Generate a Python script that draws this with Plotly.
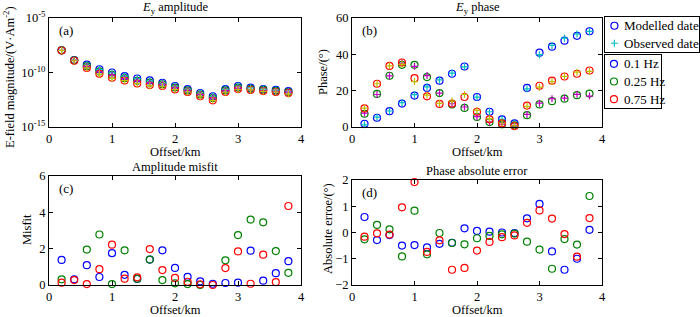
import numpy as np
import plotly.graph_objects as go

offset_km = [0.2, 0.4, 0.6, 0.8, 1.0, 1.2, 1.4, 1.6, 1.8, 2.0,
             2.2, 2.4, 2.6, 2.8, 3.0, 3.2, 3.4, 3.6, 3.8]
freq_labels = ["0.1 Hz", "0.25 Hz", "0.75 Hz"]
data_labels = ["Modelled date", "Observed date"]

# (a) amplitude, log10 of V/(A m^2)
amp_mod_log_01 = [-7.97, -8.86, -9.27, -9.70, -10.00, -10.33, -10.55, -10.73, -10.94, -11.24,
                  -11.52, -11.88, -12.18, -11.52, -11.24, -11.39, -11.52, -11.60, -11.70]
amp_mod_log_025 = [-7.97, -8.88, -9.42, -9.90, -10.22, -10.52, -10.76, -10.93, -11.08, -11.38,
                   -11.64, -12.02, -12.35, -11.64, -11.38, -11.50, -11.60, -11.69, -11.79]
amp_mod_log_075 = [-7.98, -8.92, -9.58, -10.12, -10.48, -10.73, -11.00, -11.15, -11.24, -11.55,
                   -11.79, -12.18, -12.55, -11.79, -11.52, -11.60, -11.70, -11.79, -11.88]
amp_obs_log_01 = [-7.97, -8.87, -9.29, -9.71, -10.03, -10.34, -10.56, -10.76, -10.97, -11.25,
                  -11.53, -11.88, -12.18, -11.52, -11.24, -11.41, -11.52, -11.61, -11.72]
amp_obs_log_025 = [-7.97, -8.88, -9.45, -9.95, -10.22, -10.56, -10.77, -10.96, -11.08, -11.38,
                   -11.64, -12.02, -12.35, -11.67, -11.44, -11.58, -11.67, -11.73, -11.80]
amp_obs_log_075 = [-7.98, -8.92, -9.58, -10.14, -10.53, -10.74, -11.01, -11.20, -11.26, -11.56,
                   -11.79, -12.18, -12.55, -11.81, -11.56, -11.60, -11.74, -11.79, -11.98]

# (b) phase, degrees
ph_mod_01 = [1.8, 5.1, 8.7, 12.9, 17.3, 21.5, 25.5, 29.3, 33.3, 16.5,
             8.4, 4.2, 2.0, 21.5, 40.9, 44.2, 47.5, 50.2, 52.7]
ph_mod_025 = [7.3, 18.2, 28.2, 34.2, 34.2, 27.5, 18.7, 12.4, 10.5, 5.5,
              2.7, 1.5, 0.9, 6.5, 12.4, 14.2, 15.6, 17.5, 18.4]
ph_mod_075 = [10.2, 23.8, 33.6, 35.5, 26.9, 16.9, 12.7, 12.9, 16.5, 8.4,
              4.2, 2.0, 0.5, 11.8, 22.7, 25.5, 27.8, 29.3, 31.1]
ph_obs_01 = [1.2, 5.4, 8.8, 13.4, 17.8, 22.1, 25.9, 29.7, 33.1, 16.4,
             8.4, 4.2, 2.0, 21.0, 39.8, 44.9, 48.9, 51.2, 52.6]
ph_obs_025 = [7.6, 17.9, 28.1, 35.1, 33.4, 28.3, 18.7, 12.8, 11.0, 5.7,
              2.8, 1.6, 0.9, 6.9, 13.1, 15.6, 15.9, 18.0, 17.0]
ph_obs_075 = [10.4, 23.8, 33.7, 34.5, 25.0, 17.6, 13.0, 14.3, 17.9, 9.1,
              4.6, 2.2, 0.6, 11.4, 21.9, 25.0, 27.9, 30.2, 30.6]

# (c) amplitude misfit
mis_01 = [1.38, 0.31, 1.09, 0.44, 1.75, 0.56, 0.33, 1.40, 1.91, 0.94,
          0.45, 0.20, 0.07, 0.11, 0.13, 1.89, 0.24, 0.65, 1.31]
mis_025 = [0.31, -0.05, 1.95, 2.78, 0.05, 1.91, 0.35, 1.40, 0.27, 0.09,
           0.05, 0.0, -0.05, 1.36, 2.75, 3.60, 3.45, 1.87, 0.67]
mis_075 = [0.13, 0.27, 0.05, 0.87, 2.22, 0.35, 0.42, 1.98, 0.82, 0.39,
           0.18, 0.04, 0.0, 0.93, 1.85, 0.07, 1.67, 0.16, 4.35]

# (d) phase absolute error, degrees
err_01 = [0.59, -0.29, -0.10, -0.50, -0.48, -0.57, -0.43, -0.39, 0.16, 0.06,
          0.03, 0.0, -0.02, 0.54, 1.09, -0.72, -1.42, -1.00, 0.10]
err_025 = [-0.26, 0.29, 0.12, -0.91, 0.83, -0.83, -0.02, -0.40, -0.45, -0.22,
           -0.13, -0.07, -0.04, -0.35, -0.65, -1.38, -0.25, -0.46, 1.39]
err_075 = [-0.16, -0.03, -0.08, 0.96, 1.92, -0.74, -0.30, -1.42, -1.35, -0.69,
           -0.36, -0.18, -0.11, 0.37, 0.84, 0.53, -0.06, -0.92, 0.55]

mod_colors = ["#0000ff", "#008000", "#ff0000"]
obs_colors = ["#00bfbf", "#bf00bf", "#bfbf00"]
FONT = "Liberation Serif, Times New Roman, serif"
W, H = 700, 317
TFS = 12.5  # title font size

fig = go.Figure()


def circ(x, y, color, xa, ya, size=7):
    fig.add_trace(go.Scatter(x=x, y=y, mode="markers", xaxis=xa, yaxis=ya,
                             marker=dict(symbol="circle-open", size=size, color=color,
                                         line=dict(width=1.2)),
                             showlegend=False, cliponaxis=False, hoverinfo="skip"))


def plus(x, y, color, xa, ya, size=5):
    fig.add_trace(go.Scatter(x=x, y=y, mode="markers", xaxis=xa, yaxis=ya,
                             marker=dict(symbol="cross-thin-open", size=size, color=color,
                                         line=dict(width=1.2, color=color)),
                             showlegend=False, cliponaxis=False, hoverinfo="skip"))


amp_mod = [amp_mod_log_01, amp_mod_log_025, amp_mod_log_075]
amp_obs = [amp_obs_log_01, amp_obs_log_025, amp_obs_log_075]
for i in range(3):
    circ(offset_km, 10.0 ** np.array(amp_mod[i]), mod_colors[i], "x", "y")
for i in range(3):
    plus(offset_km, 10.0 ** np.array(amp_obs[i]), obs_colors[i], "x", "y")

ph_mod = [ph_mod_01, ph_mod_025, ph_mod_075]
ph_obs = [ph_obs_01, ph_obs_025, ph_obs_075]
for i in range(3):
    circ(offset_km, ph_mod[i], mod_colors[i], "x2", "y2")
    plus(offset_km, ph_obs[i], obs_colors[i], "x2", "y2")

mis = [mis_01, mis_025, mis_075]
err = [err_01, err_025, err_075]
for i in range(3):
    circ(offset_km, mis[i], mod_colors[i], "x3", "y3")
for i in range(3):
    circ(offset_km, err[i], mod_colors[i], "x4", "y4")


def px_x(p):
    return p / W


def px_y(p):
    return 1 - p / H


# ---- manual legend boxes (own invisible axes) ----
leg1_x = [px_x(605), px_x(699)]
leg1_y = [px_y(52), px_y(17)]
leg2_x = [px_x(605), px_x(661)]
leg2_y = [px_y(108), px_y(55)]

fig.add_trace(go.Scatter(x=[0.1], y=[1.5], mode="markers", xaxis="x5", yaxis="y5",
                         marker=dict(symbol="circle-open", size=7, color=mod_colors[0],
                                     line=dict(width=1.2)),
                         showlegend=False, hoverinfo="skip"))
fig.add_trace(go.Scatter(x=[0.1], y=[0.5], mode="markers", xaxis="x5", yaxis="y5",
                         marker=dict(symbol="cross-thin-open", size=5, color=obs_colors[0],
                                     line=dict(width=1.2, color=obs_colors[0])),
                         showlegend=False, hoverinfo="skip"))
for j, lab in enumerate(data_labels):
    fig.add_annotation(text=lab, x=0.18, y=1.5 - j, xref="x5", yref="y5",
                       xanchor="left", yanchor="middle", showarrow=False,
                       font=dict(size=13, family=FONT))

for i in range(3):
    fig.add_trace(go.Scatter(x=[0.16], y=[2.5 - i], mode="markers", xaxis="x6", yaxis="y6",
                             marker=dict(symbol="circle-open", size=7, color=mod_colors[i],
                                         line=dict(width=1.2)),
                             showlegend=False, hoverinfo="skip"))
    fig.add_annotation(text=freq_labels[i], x=0.3, y=2.5 - i, xref="x6", yref="y6",
                       xanchor="left", yanchor="middle", showarrow=False,
                       font=dict(size=13, family=FONT))

ax_common = dict(showline=True, linecolor="black", linewidth=1, mirror="ticks",
                 ticks="inside", ticklen=4, tickcolor="black", showgrid=False,
                 zeroline=False, tickfont=dict(size=12.5, family=FONT, color="black"))
box_ax = dict(showline=True, linecolor="black", linewidth=1, mirror=True,
              ticks="", showticklabels=False, showgrid=False, zeroline=False,
              fixedrange=True)

xdom_l = [px_x(49), px_x(301)]
xdom_r = [px_x(352), px_x(602)]
ydom_top = [px_y(127), px_y(18)]
ydom_c = [px_y(285), px_y(176)]
ydom_d = [px_y(285), px_y(180)]

xt = dict(range=[0, 4], tickvals=[0, 1, 2, 3, 4])

fig.update_layout(
    width=W, height=H, margin=dict(l=0, r=0, t=0, b=0, autoexpand=False),
    paper_bgcolor="white", plot_bgcolor="white", showlegend=False,
    font=dict(family=FONT, size=13, color="black"),
    xaxis=dict(domain=xdom_l, anchor="y", **xt, **ax_common),
    yaxis=dict(domain=ydom_top, anchor="x", type="log", range=[-15, -5],
               tickvals=[1e-15, 1e-10, 1e-5],
               ticktext=["10<sup>-15</sup>", "10<sup>-10</sup>", "10<sup>-5</sup>"],
               **ax_common),
    xaxis2=dict(domain=xdom_r, anchor="y2", **xt, **ax_common),
    yaxis2=dict(domain=ydom_top, anchor="x2", range=[0, 60], tickvals=[0, 20, 40, 60],
                **ax_common),
    xaxis3=dict(domain=xdom_l, anchor="y3", **xt, **ax_common),
    yaxis3=dict(domain=ydom_c, anchor="x3", range=[0, 6], tickvals=[0, 2, 4, 6],
                **ax_common),
    xaxis4=dict(domain=xdom_r, anchor="y4", **xt, **ax_common),
    yaxis4=dict(domain=ydom_d, anchor="x4", range=[-2, 2], tickvals=[-2, -1, 0, 1, 2],
                **ax_common),
    xaxis5=dict(domain=leg1_x, anchor="y5", range=[0, 1], **box_ax),
    yaxis5=dict(domain=leg1_y, anchor="x5", range=[0, 2], **box_ax),
    xaxis6=dict(domain=leg2_x, anchor="y6", range=[0, 1], **box_ax),
    yaxis6=dict(domain=leg2_y, anchor="x6", range=[0, 3], **box_ax),
)

# panel titles
titles = [("<i>E</i><sub>y</sub> amplitude", xdom_l, 8),
          ("<i>E</i><sub>y</sub> phase", xdom_r, 8),
          ("Amplitude misfit", xdom_l, 167),
          ("Phase absolute error", xdom_r, 171)]
for t, xd, yc in titles:
    fig.add_annotation(text=t, x=(xd[0] + xd[1]) / 2, y=px_y(yc), xref="paper", yref="paper",
                       xanchor="center", yanchor="middle", showarrow=False,
                       font=dict(size=TFS, family=FONT))

# x axis titles
for xd, yc in [(xdom_l, 152), (xdom_r, 152), (xdom_l, 310), (xdom_r, 310)]:
    fig.add_annotation(text="Offset/km", x=(xd[0] + xd[1]) / 2, y=px_y(yc),
                       xref="paper", yref="paper", xanchor="center", yanchor="middle",
                       showarrow=False, font=dict(size=TFS, family=FONT))

# y axis titles
for t, xc, yc in [("E-field magnitude/(V·Am<sup>-2</sup>)", 9, 77),
                  ("Phase/(°)", 323, 72),
                  ("Misfit", 27, 230),
                  ("Absolute erroe/(°)", 328, 229)]:
    fig.add_annotation(text=t, x=px_x(xc), y=px_y(yc), xref="paper", yref="paper",
                       xanchor="center", yanchor="middle", textangle=-90,
                       showarrow=False, font=dict(size=TFS, family=FONT))

# panel letters
for lab, xd, yd in [("(a)", xdom_l, ydom_top), ("(b)", xdom_r, ydom_top),
                    ("(c)", xdom_l, ydom_c), ("(d)", xdom_r, ydom_d)]:
    fig.add_annotation(text=lab, x=xd[0], y=yd[1], xref="paper", yref="paper",
                       xanchor="left", yanchor="top", showarrow=False,
                       xshift=8, yshift=-3, font=dict(size=13, family=FONT))

fig.write_html("out.html", config={"displayModeBar": False},
               post_script="document.body.style.margin='0';"
                           "document.body.style.overflow='hidden';")
